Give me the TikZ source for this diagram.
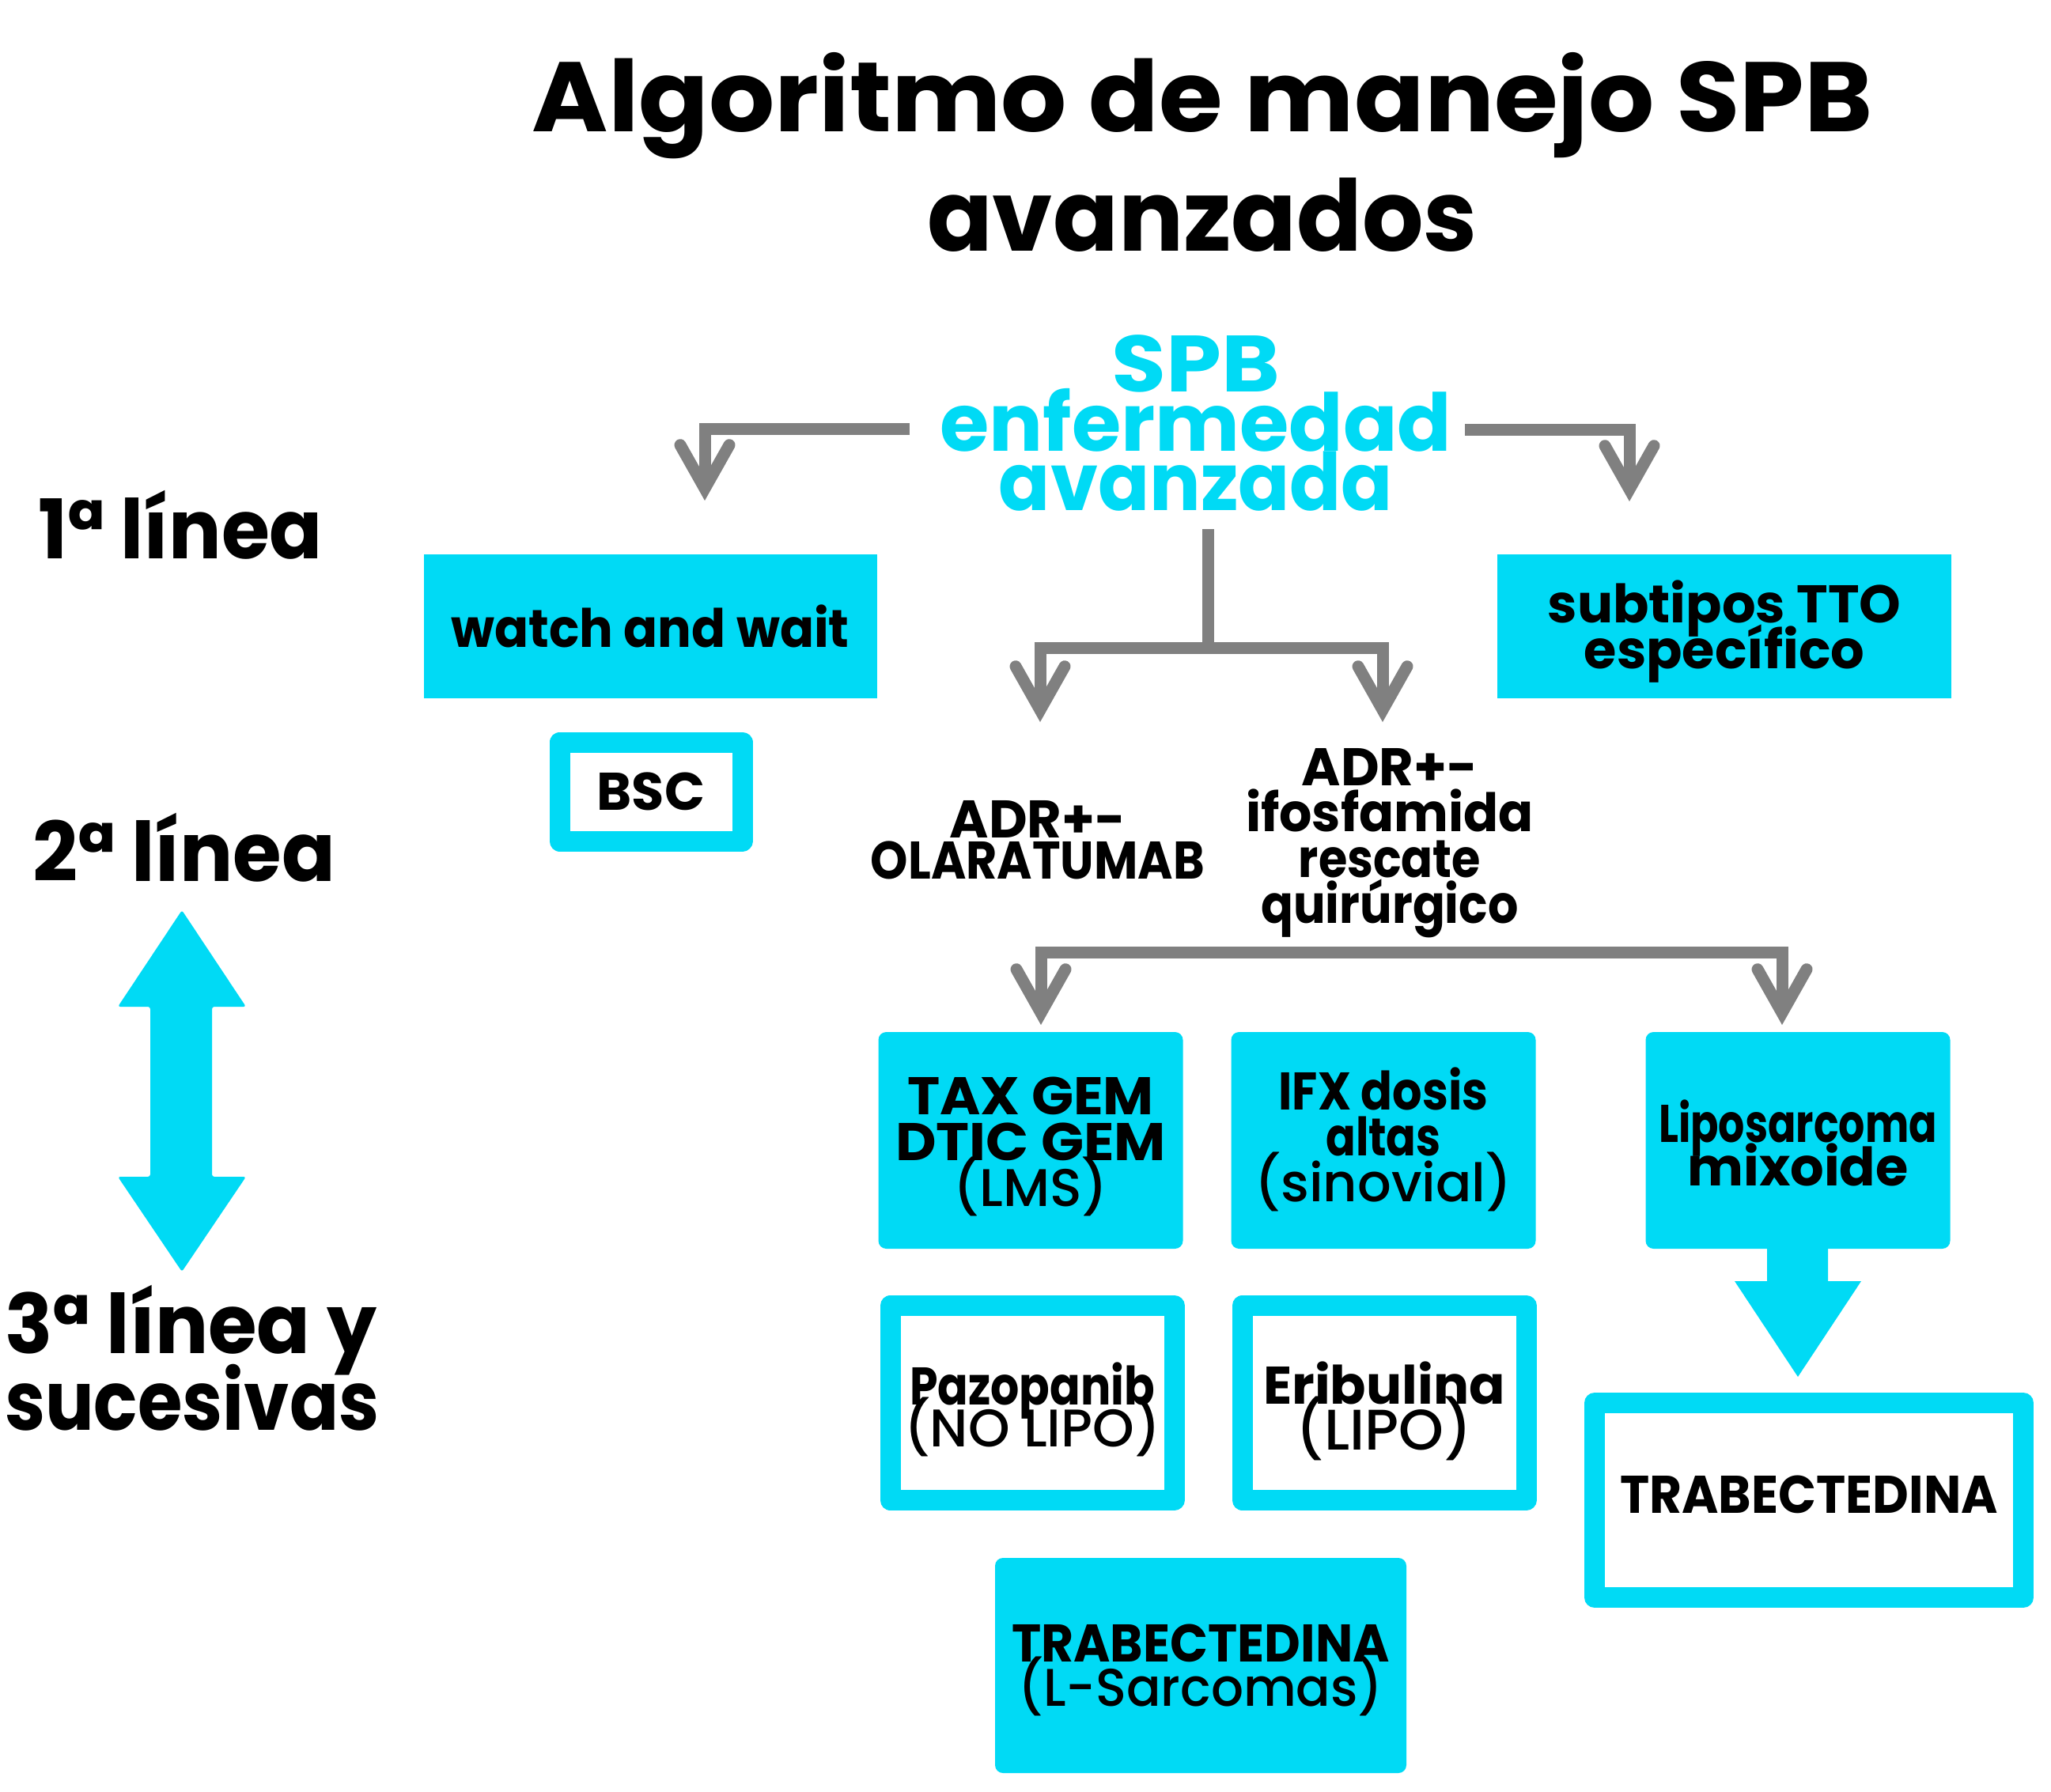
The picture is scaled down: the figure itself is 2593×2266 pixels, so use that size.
\documentclass[tikz,border=0pt]{standalone}
\usepackage{fontspec}
\usepackage{graphicx}
\setmainfont{Poppins}
\newfontfamily\pmed{Poppins Medium}
\usetikzlibrary{arrows.meta,calc}
\definecolor{cy}{RGB}{0,218,245}
\definecolor{gr}{RGB}{128,128,128}
\newcommand{\sx}[2]{\scalebox{#1}[1]{#2}}
\newcommand{\mytight}{\lineskiplimit=-1000pt\relax}
\newcommand{\md}[1]{{\pmed\mdseries #1}}
\begin{document}
\begin{tikzpicture}[x=1pt,y=-1pt,
  tt/.style={font=\fontsize{125}{151}\selectfont\bfseries\mytight, align=center, inner sep=0pt},
  spbt/.style={font=\fontsize{101}{75}\selectfont\bfseries\mytight, text=cy, align=center, inner sep=0pt},
  lab/.style={font=\fontsize{104}{97}\selectfont\bfseries\mytight, inner sep=0pt},
  txt/.style={font=\fontsize{67}{58}\selectfont\bfseries\mytight, align=center, inner sep=0pt},
  fbox/.style={fill=cy, inner sep=0pt, outer sep=0pt},
  rbox/.style={fbox, rounded corners=10pt},
  obox/.style={draw=cy, fill=white, line width=26pt, line join=round, inner sep=0pt, outer sep=0pt},
  conn/.style={draw=gr, line width=15pt, -{Straight Barb[length=55pt,width=62pt,line cap=round]}}]
\useasboundingbox (0,0) rectangle (2593,2266);
% title
\node[tt] (title) at (1520,192) {\sx{1.046}{Algoritmo de manejo SPB}\\\sx{0.975}{avanzados}};
\node[spbt] (spb) at (1512,535) {\sx{1.11}{SPB}\\enfermedad\\\sx{0.95}{avanzada}};
% left labels
\node[lab, anchor=base west] (l1) at (48,706) {\sx{0.95}{1ª línea}};
\node[lab, anchor=base west] (l2) at (41,1114) {\sx{0.96}{2ª línea}};
\node[lab, anchor=base west, align=left] (l3) at (6,1808) {\sx{0.96}{3ª línea y}\\\sx{0.88}{sucesivas}};
\fill[cy, rounded corners=3pt] (230,1151) -- (311,1273) -- (268,1273) -- (268,1488) -- (311,1488) -- (230,1608) -- (149,1488) -- (190,1488) -- (190,1273) -- (149,1273) -- cycle;
% first line boxes
\node[fbox, minimum width=573pt, minimum height=182pt] (watch) at (822,792) {};
\node[txt] (watcht) at (watch) {\sx{0.947}{watch and wait}};
\node[fbox, minimum width=574pt, minimum height=182pt] (subt) at (2180,792) {};
\node[txt] (subtt) at ($(subt)+(0,7)$) {subtipos TTO\\específico};
\node[obox, minimum width=231pt, minimum height=125pt] (bsc) at (823,1001) {};
\node[txt] (bsct) at (bsc) {BSC};
% second line texts
\node[txt, font=\fontsize{67}{52}\selectfont\bfseries\mytight] (olar) at (1312,1062) {ADR+-\\\sx{0.9}{OLARATUMAB}};
\node[txt] (ifos) at (1757,1066) {ADR+-\\\sx{0.97}{ifosfamida}\\\sx{0.88}{rescate}\\\sx{0.9}{quirúrgico}};
% third line boxes
\node[rbox, minimum width=385pt, minimum height=274pt] (tax) at (1303,1442) {};
\node[txt] (taxt) at ($(tax)+(0,8)$) {\sx{1.04}{TAX GEM}\\\sx{1.06}{DTIC GEM}\\\md{(LMS)}};
\node[rbox, minimum width=385pt, minimum height=274pt] (ifx) at (1749,1442) {};
\node[txt] (ifxt) at ($(ifx)+(0,-1)$) {\sx{0.88}{IFX dosis}\\\sx{0.83}{altas}\\\md{(sinovial)}};
\node[rbox, minimum width=385pt, minimum height=274pt] (lipo) at (2273,1442) {};
\node[txt, font=\fontsize{67}{55}\selectfont\bfseries\mytight] (lipot) at ($(lipo)+(0,3)$) {\sx{0.78}{Liposarcoma}\\mixoide};
\node[obox, minimum width=359pt, minimum height=246pt] (pazo) at (1305,1774) {};
\node[txt, font=\fontsize{67}{53}\selectfont\bfseries\mytight] (pazot) at ($(pazo)+(0,8)$) {\sx{0.85}{Pazopanib}\\\md{(NO LIPO)}};
\node[obox, minimum width=359pt, minimum height=246pt] (erib) at (1750,1774) {};
\node[txt] (eribt) at ($(erib)+(0,10)$) {Eribulina\\\md{\scalebox{1.08}{(LIPO)}}};
\node[obox, minimum width=542pt, minimum height=246pt] (trabr) at (2287,1897) {};
\node[txt] (trabrt) at ($(trabr)+(0,-7)$) {\sx{0.94}{TRABECTEDINA}};
\node[rbox, minimum width=520pt, minimum height=272pt] (trabl) at (1518,2106) {};
\node[txt, font=\fontsize{67}{56}\selectfont\bfseries\mytight] (trablt) at ($(trabl)+(0,6)$) {\sx{0.94}{TRABECTEDINA}\\\md{\sx{0.96}{(L-Sarcomas)}}};
% connectors
\coordinate (la) at (1150,542);
\coordinate (lb) at (891,633);
\draw[conn] (la) -| (lb);
\coordinate (ra) at (1852,543);
\coordinate (rb) at (2060,634);
\draw[conn] (ra) -| (rb);
\coordinate (ca) at (1527,669);
\coordinate (cm) at (1527,819);
\coordinate (cl) at (1315,913);
\coordinate (cr) at (1748,913);
\draw[draw=gr, line width=15pt] (ca) -- (cm);
\draw[conn] (cm) -| (cl);
\draw[conn] (cm) -| (cr);
\coordinate (lm) at (1785,1204);
\coordinate (ll) at (1316,1296);
\coordinate (lr) at (2253,1296);
\draw[conn] (lm) -| (ll);
\draw[conn] (lm) -| (lr);
% block arrow from lipo
\fill[cy, shift={(lipo.south)}] (-39,-5) -- (38,-5) -- (38,41) -- (80,41) -- (0,162) -- (-80,41) -- (-39,41) -- cycle;
\end{tikzpicture}
\end{document}
